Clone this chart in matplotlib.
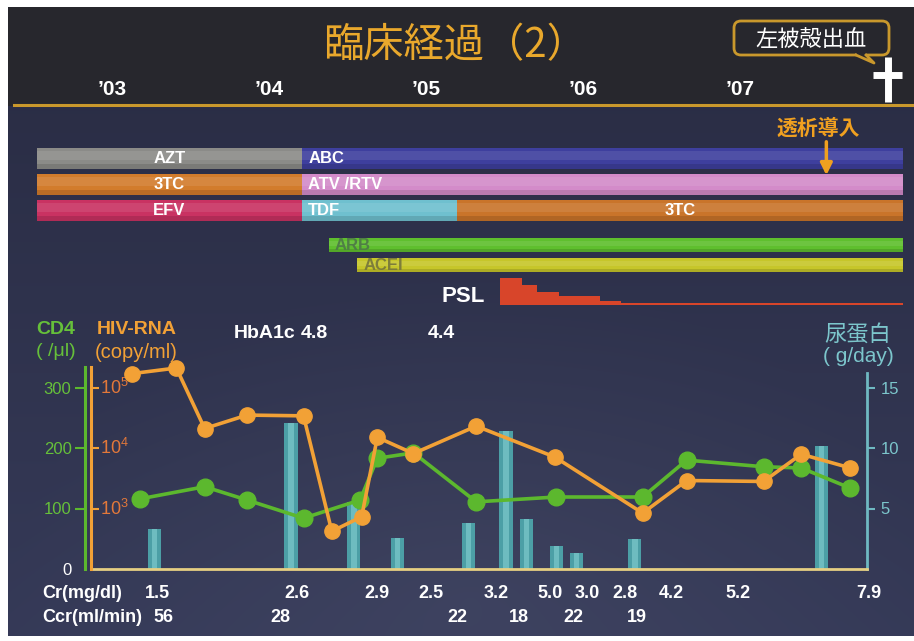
import numpy as np
import matplotlib
matplotlib.use('Agg')
import matplotlib.pyplot as plt
from matplotlib.patches import FancyBboxPatch, Rectangle

plt.rcParams['font.family'] = ['Liberation Sans', 'Noto Sans CJK JP', 'DejaVu Sans']
plt.rcParams['mathtext.fontset'] = 'custom'
plt.rcParams['mathtext.rm'] = 'Liberation Sans'

# ---------------- data ----------------
years = [2003, 2004, 2005, 2006, 2007]
year_labels = ["’03", "’04", "’05", "’06", "’07"]

drug_names = ["AZT", "ABC", "3TC", "ATV /RTV", "EFV", "TDF", "3TC", "ARB", "ACEI"]
drug_start = [2002.52, 2004.21, 2002.52, 2004.21, 2002.52, 2004.21, 2005.20, 2004.38, 2004.56]
drug_end = [2004.21, 2008.04, 2004.21, 2008.04, 2004.21, 2005.20, 2008.04, 2008.04, 2008.04]
drug_row = [0, 0, 1, 1, 2, 2, 2, 3, 4]

psl_edges = [2005.47, 2005.61, 2005.71, 2005.85, 2006.11, 2006.24, 2008.04]
psl_dose = [40, 30, 20, 13, 6, 3]

dialysis_t = 2007.55
death_t = 2007.94

hiv_t = [2003.13, 2003.41, 2003.59, 2003.86, 2004.22, 2004.40, 2004.59, 2004.69,
         2004.92, 2005.32, 2005.82, 2006.38, 2006.66, 2007.15, 2007.39, 2007.70]
hiv = [1.7e5, 2.1e5, 2.1e4, 3.5e4, 3.4e4, 420, 730, 1.5e4,
       8.1e3, 2.3e4, 7.1e3, 840, 2.9e3, 2.8e3, 7.9e3, 4.7e3]

cd4_t = [2003.18, 2003.59, 2003.86, 2004.22, 2004.58, 2004.69, 2004.92,
         2005.32, 2005.83, 2006.38, 2006.66, 2007.15, 2007.39, 2007.70]
cd4 = [116, 136, 114, 84, 114, 183, 192, 111, 119, 119, 180, 169, 167, 134]

prot_t = [2003.27, 2004.14, 2004.54, 2004.82, 2005.27, 2005.51, 2005.64,
          2005.83, 2005.96, 2006.33, 2007.52]
prot = [3.3, 12.1, 5.5, 2.6, 3.8, 11.4, 4.1, 1.9, 1.3, 2.5, 10.2]

cr_t = [2003.29, 2004.18, 2004.69, 2005.03, 2005.45, 2005.79, 2006.03,
        2006.27, 2006.56, 2006.99, 2007.82]
cr = ["1.5", "2.6", "2.9", "2.5", "3.2", "5.0", "3.0", "2.8", "4.2", "5.2", "7.9"]
ccr_t = [2003.33, 2004.07, 2005.20, 2005.59, 2005.94, 2006.34]
ccr = ["56", "28", "22", "18", "22", "19"]

hba1c_t = [2004.29, 2005.10]
hba1c = ["4.8", "4.4"]

# ---------------- layout / style ----------------
W, H = 914, 641
X0, T0, PPY = 112.0, 2003.0, 157.0


def t_at(px):
    return T0 + (px - X0) / PPY


def frac(l, t, r, b):
    return [l / W, 1 - b / H, (r - l) / W, (b - t) / H]


row_y = [158, 184, 210, 245, 265]
row_h = [21, 21, 21, 14, 14]
drug_colors = ["#8b8b88", "#3e3f9e", "#d27c2c", "#d38bc9", "#c93262",
               "#6fc0cf", "#c9742a", "#5fbf2e", "#c6c62a"]
drug_align = ["center", "left", "center", "left", "center", "left", "center", "left", "left"]
drug_txtcol = ["white"] * 7 + ["#4f7f45", "#7d7d3a"]

ORANGE = "#f2a136"
GREEN = "#5cb82e"
TEAL = "#5aafb5"
GOLD = "#c9982c"

fig = plt.figure(figsize=(W / 100, H / 100), dpi=100)

# background
ax_bg = fig.add_axes([0, 0, 1, 1], zorder=-10)
ax_bg.set_xlim(0, W)
ax_bg.set_ylim(H, 0)
ax_bg.axis('off')
yy, xx = np.mgrid[0:H, 0:W]
top_c = np.array([0.155, 0.155, 0.178])
c1 = np.array([0.168, 0.180, 0.275])
c2 = np.array([0.210, 0.228, 0.345])
f = np.clip((yy - 106) / (H - 106), 0, 1)[..., None]
img = c1 + (c2 - c1) * f
r = np.sqrt(((xx - 470) / 460.0) ** 2 + ((yy - 600) / 320.0) ** 2)
img = img + 0.035 * np.clip(1 - r, 0, 1)[..., None]
img[yy < 106] = top_c
img[:7, :] = 1
img[:, :8] = 1
img[636:, :] = 1
ax_bg.imshow(np.clip(img, 0, 1), extent=(0, W, H, 0), aspect='auto', interpolation='nearest')
ax_bg.plot([14, W], [105, 105], color=GOLD, lw=2.2)

# title
ax_bg.text(455, 46, "臨床経過（2）", fontsize=29, color="#e9a82c", ha='center', va='center',
           family=['Noto Sans CJK JP'])

# speech bubble
ax_bg.add_patch(FancyBboxPatch((734, 21), 155, 34, boxstyle='round,pad=0,rounding_size=7',
                               fc='none', ec=GOLD, lw=2))
ax_bg.add_patch(Rectangle((857, 53), 9, 4, fc=top_c, ec='none'))
ax_bg.plot([856, 874, 866], [55, 63, 55], color=GOLD, lw=2)
ax_bg.text(811, 39, "左被殻出血", fontsize=16, color='white', ha='center', va='center',
           family=['Noto Sans CJK JP'])

# axis title labels
ax_bg.text(56, 330, "CD4", fontsize=14, color="#66c03a", ha='center', va='center', fontweight='bold')
ax_bg.text(56, 352, "( /μl)", fontsize=14, color="#66c03a", ha='center', va='center')
ax_bg.text(137, 330, "HIV-RNA", fontsize=14, color=ORANGE, ha='center', va='center', fontweight='bold')
ax_bg.text(136, 352, "(copy/ml)", fontsize=14.5, color=ORANGE, ha='center', va='center')
ax_bg.text(858, 334, "尿蛋白", fontsize=16, color="#7cc6cc", ha='center', va='center',
           family=['Noto Sans CJK JP'])
ax_bg.text(858, 357, "( g/day)", fontsize=15, color="#7cc6cc", ha='center', va='center')
ax_bg.text(42, 593, "Cr(mg/dl)", fontsize=13, color='white', ha='left', va='center', fontweight='bold')
ax_bg.text(42, 618, "Ccr(ml/min)", fontsize=13, color='white', ha='left', va='center', fontweight='bold')

# ---------------- timeline ----------------
ax_t = fig.add_axes(frac(0, 10, W, 312))
ax_t.set_xlim(t_at(0), t_at(W))
ax_t.set_ylim(312, 10)
ax_t.axis('off')
ax_t.patch.set_visible(False)

for yv, lab in zip(years, year_labels):
    ax_t.text(yv, 89, lab, ha='center', va='center', color='white', fontsize=15, fontweight='bold')

starts = np.array(drug_start)
widths = np.array(drug_end) - starts
ys = np.array([row_y[k] for k in drug_row], dtype=float)
hs = np.array([row_h[k] for k in drug_row], dtype=float)
ax_t.barh(ys, widths, left=starts, height=hs, color=drug_colors, edgecolor='none')
ax_t.barh(ys - 0.12 * hs, widths, left=starts, height=0.4 * hs, color='white', alpha=0.09,
          edgecolor='none')
ax_t.barh(ys + 0.4 * hs, widths, left=starts, height=0.2 * hs, color='black', alpha=0.12,
          edgecolor='none')
for name, s, e, yv, al, tc in zip(drug_names, drug_start, drug_end, ys, drug_align, drug_txtcol):
    if al == 'center':
        ax_t.text((s + e) / 2, yv, name, ha='center', va='center', color=tc, fontsize=12,
                  fontweight='bold')
    else:
        ax_t.text(s + 0.04, yv, name, ha='left', va='center', color=tc, fontsize=12,
                  fontweight='bold')

# dialysis
ax_t.annotate('', xy=(dialysis_t, 178), xytext=(dialysis_t, 139),
              arrowprops=dict(arrowstyle='-|>,head_width=0.35,head_length=0.7',
                              color="#f0a020", lw=2.5))
ax_t.text(dialysis_t - 0.05, 128, "透析導入", color="#f0a020", fontsize=15, fontweight='bold',
          ha='center', va='center', family=['Noto Sans CJK JP'])

# death cross
ax_t.plot([death_t, death_t], [57, 102], color='white', lw=5, solid_capstyle='butt')
ax_t.plot([death_t - 0.09, death_t + 0.09], [75, 75], color='white', lw=5, solid_capstyle='butt')

# PSL
ax_psl = fig.add_axes(frac(0, 270, W, 305))
ax_psl.set_xlim(t_at(0), t_at(W))
ax_psl.set_ylim(0, 52)
ax_psl.axis('off')
ax_psl.patch.set_visible(False)
ax_psl.stairs(psl_dose, psl_edges, fill=True, color="#d8452a")
ax_t.text(psl_edges[0] - 0.23, 296, "PSL", color='white', fontsize=16, ha='center', va='center',
          fontweight='bold')

# ---------------- main chart ----------------
ax_p = fig.add_axes(frac(91, 367, 867, 569))
ax_p.patch.set_visible(False)
ax_p.set_xlim(t_at(91), t_at(867))
ax_p.set_ylim(0, 202 / 60.5 * 5)
ax_p.bar(prot_t, prot, width=0.085, color="#4c9fa6", edgecolor='none', zorder=1)
ax_p.bar(prot_t, prot, width=0.035, color="#8bd5d6", alpha=0.55, edgecolor='none', zorder=1.1)

ax_c = ax_p.twinx()
ax_h = ax_p.twinx()

for s in ['left', 'top']:
    ax_p.spines[s].set_visible(False)
ax_p.spines['right'].set_visible(True)
ax_p.spines['right'].set_color("#6fb9c2")
ax_p.spines['right'].set_linewidth(2)
ax_p.spines['right'].set_bounds(0, 16.2)
ax_p.spines['bottom'].set_color("#e6cf82")
ax_p.spines['bottom'].set_linewidth(2)
ax_p.yaxis.tick_right()
ax_p.yaxis.set_label_position('right')
ax_p.set_yticks([5, 10, 15])
ax_p.tick_params(axis='y', which='both', left=False, labelleft=False, right=True, labelright=True,
                 colors="#6fb9c2", labelcolor="#7cc6cc", length=6, width=1.5, pad=4, labelsize=12)
ax_p.set_xticks([])

ax_c.set_ylim(0, 202 / 60.5 * 100)
ax_c.yaxis.tick_left()
for s in ['right', 'top', 'bottom']:
    ax_c.spines[s].set_visible(False)
ax_c.spines['left'].set_visible(True)
ax_c.spines['left'].set_position(('outward', 4))
ax_c.spines['left'].set_color(GREEN)
ax_c.spines['left'].set_linewidth(2.2)
ax_c.set_yticks([0, 100, 200, 300])
ax_c.tick_params(axis='y', right=False, labelright=False, left=True, labelleft=True,
                 colors=GREEN, labelcolor="#66c03a", length=7, width=1.5, pad=3, labelsize=12)
ax_c.yaxis.get_major_ticks()[0].tick1line.set_visible(False)
ax_c.get_yticklabels()[0].set_color('white')
ax_c.plot(cd4_t, cd4, color=GREEN, lw=2.6, marker='o', ms=12, mec=GREEN, clip_on=False, zorder=3)

ax_h.set_yscale('log')
ax_h.set_ylim(1e2, 10 ** (2 + 202 / 60.5))
ax_h.yaxis.tick_left()
for s in ['right', 'top', 'bottom']:
    ax_h.spines[s].set_visible(False)
ax_h.spines['left'].set_visible(True)
ax_h.spines['left'].set_color(ORANGE)
ax_h.spines['left'].set_linewidth(2.2)
ax_h.set_yticks([1e3, 1e4, 1e5])
ax_h.yaxis.set_minor_locator(matplotlib.ticker.NullLocator())
ax_h.tick_params(axis='y', direction='in', right=False, labelright=False, left=True,
                 colors=ORANGE, length=6, width=1.5, labelleft=False)
for v, e in zip([1e3, 1e4, 1e5], [3, 4, 5]):
    ax_h.text(0.011, v, r"$\mathregular{10^{%d}}$" % e, transform=ax_h.get_yaxis_transform(),
              color="#e3783a", fontsize=13, ha='left', va='center')
ax_h.plot(hiv_t, hiv, color=ORANGE, lw=2.6, marker='o', ms=11, mec=ORANGE, clip_on=False, zorder=3)

# text rows
tr = ax_p.get_xaxis_transform()
for tv, s in zip(cr_t, cr):
    ax_p.text(tv, (569 - 593) / 202, s, transform=tr, ha='center', va='center', color='white',
              fontsize=13, fontweight='bold')
for tv, s in zip(ccr_t, ccr):
    ax_p.text(tv, (569 - 618) / 202, s, transform=tr, ha='center', va='center', color='white',
              fontsize=13, fontweight='bold')
for tv, s in zip(hba1c_t, hba1c):
    ax_p.text(tv, (569 - 333) / 202, s, transform=tr, ha='center', va='center', color='white',
              fontsize=14, fontweight='bold')
ax_p.annotate("HbA1c", xy=(hba1c_t[0], (569 - 333) / 202), xycoords=tr, xytext=(-14, 0),
              textcoords='offset points', ha='right', va='center', color='white', fontsize=14,
              fontweight='bold')

fig.savefig("out.png", dpi=100)
